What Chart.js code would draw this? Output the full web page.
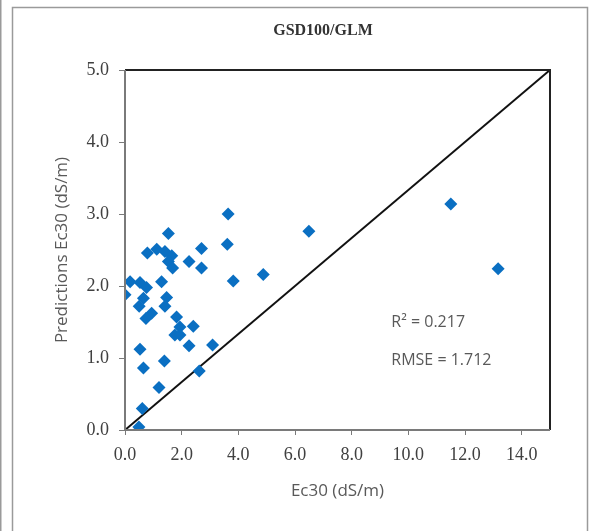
<!DOCTYPE html>
<html>
<head>
<meta charset="utf-8">
<script src="https://cdn.jsdelivr.net/npm/chart.js@4.4.1/dist/chart.umd.min.js"></script>
<style>
  html, body { margin: 0; padding: 0; background: #fff; }
  #wrap { width: 590px; height: 531px; position: relative; }
</style>
</head>
<body>
<div id="wrap"><canvas id="chart" width="590" height="531"></canvas></div>
<script>
// Observed Ec30 vs GLM predictions (dS/m)
const observed = [3.64, 1.53, 3.61, 2.70, 0.79, 1.12, 1.41, 1.65, 1.53, 1.68, 2.26, 2.70, 3.82, 4.88,
  0.18, 0.53, 0.76, 1.29, 0.00, 0.65, 0.50, 1.47, 1.41, 0.94, 0.74, 1.82, 1.94, 2.41, 1.76, 1.94,
  2.26, 3.09, 0.53, 1.39, 0.65, 2.62, 1.20, 0.61, 0.49, 6.49, 11.50, 13.17];
const predicted = [3.00, 2.73, 2.58, 2.52, 2.46, 2.51, 2.48, 2.42, 2.34, 2.25, 2.34, 2.25, 2.07, 2.16,
  2.06, 2.05, 1.98, 2.06, 1.88, 1.83, 1.72, 1.84, 1.72, 1.62, 1.55, 1.57, 1.43, 1.44, 1.32, 1.32,
  1.17, 1.18, 1.12, 0.96, 0.86, 0.82, 0.59, 0.30, 0.04, 2.76, 3.14, 2.24];
const refLineX = [0, 15];
const refLineY = [0, 5];
const stats = ["R² = 0.217", "RMSE = 1.712"];

const points = observed.map((x, i) => ({ x: x, y: predicted[i] }));
const refLine = refLineX.map((x, i) => ({ x: x, y: refLineY[i] }));

const serif = "'Liberation Serif', 'Times New Roman', serif";
const sans = "'Open Sans', 'Noto Sans', sans-serif";

// frame, title, plot box and stats text
const decor = {
  id: "decor",
  beforeDraw(chart) {
    const { ctx } = chart;
    ctx.save();
    ctx.fillStyle = "#fff";
    ctx.fillRect(0, 0, chart.width, chart.height);
    ctx.strokeStyle = "#9a9a9a";
    ctx.lineWidth = 1.5;
    ctx.beginPath();
    ctx.moveTo(0.75, 0); ctx.lineTo(0.75, chart.height);
    ctx.stroke();
    ctx.strokeRect(12.5, 7.5, 575, 540);
    ctx.restore();
  },
  afterDraw(chart) {
    const { ctx, chartArea: a, scales } = chart;
    ctx.save();
    ctx.strokeStyle = "#222";
    ctx.lineWidth = 2;
    ctx.beginPath();
    ctx.moveTo(a.left, a.top);
    ctx.lineTo(a.right, a.top);
    ctx.lineTo(a.right, a.bottom);
    ctx.stroke();
    ctx.strokeStyle = "#7a7a7a";
    ctx.beginPath();
    ctx.moveTo(a.left, a.top);
    ctx.lineTo(a.left, a.bottom);
    ctx.lineTo(a.right, a.bottom);
    ctx.stroke();

    ctx.fillStyle = "#333";
    ctx.font = "bold 16px " + serif;
    ctx.textAlign = "center";
    ctx.textBaseline = "middle";
    ctx.fillText("GSD100/GLM", 323, 31);

    ctx.fillStyle = "#595959";
    ctx.font = "16px " + sans;
    ctx.textAlign = "left";
    const sx = scales.x.getPixelForValue(9.4);
    ctx.fillText(stats[0], sx, scales.y.getPixelForValue(1.50));
    ctx.fillText(stats[1], sx, scales.y.getPixelForValue(0.97));
    ctx.restore();
  }
};

new Chart(document.getElementById("chart"), {
  type: "scatter",
  data: {
    datasets: [
      {
        data: points,
        pointStyle: "rectRot",
        pointRadius: 6.5,
        pointHoverRadius: 6.5,
        backgroundColor: "#0a6fc2",
        borderColor: "#0a6fc2",
        borderWidth: 0
      },
      {
        type: "line",
        data: refLine,
        borderColor: "#111",
        borderWidth: 2,
        pointRadius: 0,
        fill: false
      }
    ]
  },
  options: {
    responsive: false,
    animation: false,
    layout: { padding: { left: 0, right: 40, top: 70, bottom: 0 } },
    plugins: { legend: { display: false }, tooltip: { enabled: false } },
    scales: {
      x: {
        type: "linear",
        min: 0,
        max: 15,
        afterFit: (s) => { s.height = 101; },
        grid: { drawOnChartArea: false, color: "#7a7a7a", tickLength: 5 },
        border: { display: false },
        ticks: {
          stepSize: 2,
          includeBounds: false,
          padding: 9,
          autoSkip: false,
          color: "#404040",
          font: { family: serif, size: 18 },
          maxRotation: 0,
          callback: (v) => Number(v).toFixed(1)
        },
        title: {
          display: true,
          text: "Ec30 (dS/m)",
          color: "#595959",
          font: { family: sans, size: 17 },
          padding: { top: 0, bottom: 30 }
        }
      },
      y: {
        type: "linear",
        min: 0,
        max: 5,
        afterFit: (s) => { s.width = 125; },
        grid: { drawOnChartArea: false, color: "#7a7a7a", tickLength: 6 },
        border: { display: false },
        ticks: {
          stepSize: 1,
          padding: 10,
          color: "#404040",
          font: { family: serif, size: 18 },
          callback: (v) => Number(v).toFixed(1)
        },
        title: {
          display: true,
          text: "Predictions Ec30 (dS/m)",
          color: "#595959",
          font: { family: sans, size: 17 },
          padding: { top: 52, bottom: 0 }
        }
      }
    }
  },
  plugins: [decor]
});
</script>
</body>
</html>
